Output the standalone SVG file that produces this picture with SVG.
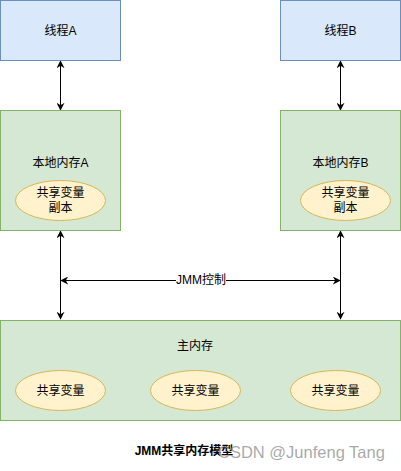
<svg xmlns="http://www.w3.org/2000/svg" width="401" height="471" viewBox="0 0 401 471">
<style>
.thread{fill:#dae8fc;stroke:#6c8ebf;stroke-width:1}
.mem{fill:#d5e8d4;stroke:#82b366;stroke-width:1}
.var{fill:#fff2cc;stroke:#d6b656;stroke-width:1}
.t{font-family:"Liberation Sans","Noto Sans CJK SC",sans-serif;font-size:12px;fill:#000;text-anchor:middle;dominant-baseline:central}
.edge{stroke:#000;stroke-width:1;fill:none;marker-start:url(#ah);marker-end:url(#ah)}
</style>
<defs>
<marker id="ah" viewBox="0 0 10 10" refX="9" refY="5" markerWidth="8" markerHeight="8" markerUnits="userSpaceOnUse" orient="auto-start-reverse">
<path d="M0,0 L10,5 L0,10 L3,5 Z" fill="#000"/>
</marker>
</defs>
<rect width="401" height="471" fill="#fff"/>
<g id="connectors">
<line class="edge" x1="60.5" y1="61" x2="60.5" y2="110"/>
<line class="edge" x1="340.5" y1="61" x2="340.5" y2="110"/>
<line class="edge" x1="60.5" y1="231" x2="60.5" y2="319"/>
<line class="edge" x1="340.5" y1="231" x2="340.5" y2="319"/>
<line class="edge" x1="61" y1="280.5" x2="340" y2="280.5"/>
<rect x="176" y="273" width="50" height="15" fill="#fff"/>
<text class="t" x="201" y="280" font-size="11">JMM控制</text>
</g>
<g id="threadA">
<rect class="thread" x="0.5" y="0.5" width="120" height="60"/>
<text class="t" x="60.5" y="30.5">线程A</text>
</g>
<g id="threadB">
<rect class="thread" x="280.5" y="0.5" width="120" height="60"/>
<text class="t" x="340.5" y="30.5">线程B</text>
</g>
<g id="localA">
<rect class="mem" x="0.5" y="110.5" width="120" height="120"/>
<text class="t" x="60.5" y="163">本地内存A</text>
</g>
<g id="copyA">
<ellipse class="var" cx="60.5" cy="200.5" rx="45" ry="20"/>
<text class="t" x="60.5" y="193">共享变量</text>
<text class="t" x="60.5" y="208">副本</text>
</g>
<g id="localB">
<rect class="mem" x="280.5" y="110.5" width="120" height="120"/>
<text class="t" x="340.5" y="163">本地内存B</text>
</g>
<g id="copyB">
<ellipse class="var" cx="345.5" cy="200.5" rx="45" ry="20"/>
<text class="t" x="345.5" y="193">共享变量</text>
<text class="t" x="345.5" y="208">副本</text>
</g>
<g id="mainMemory">
<rect class="mem" x="0.5" y="320.5" width="400" height="100"/>
<text class="t" x="195" y="346">主内存</text>
</g>
<g id="var1">
<ellipse class="var" cx="60.5" cy="390.5" rx="45" ry="20"/>
<text class="t" x="60.5" y="390.5">共享变量</text>
</g>
<g id="var2">
<ellipse class="var" cx="195.5" cy="390.5" rx="45" ry="20"/>
<text class="t" x="195.5" y="390.5">共享变量</text>
</g>
<g id="var3">
<ellipse class="var" cx="335.5" cy="390.5" rx="45" ry="20"/>
<text class="t" x="335.5" y="390.5">共享变量</text>
</g>
<g id="caption">
<text x="184" y="455" font-family="'Liberation Sans','Noto Sans CJK SC',sans-serif" font-size="12" font-weight="bold" text-anchor="middle" fill="#000">JMM共享内存模型</text>
<text x="218" y="458" font-family="'Liberation Sans','Noto Sans CJK SC',sans-serif" font-size="16.5" fill="#999" fill-opacity="0.85">CSDN @Junfeng Tang</text>
</g>
</svg>
